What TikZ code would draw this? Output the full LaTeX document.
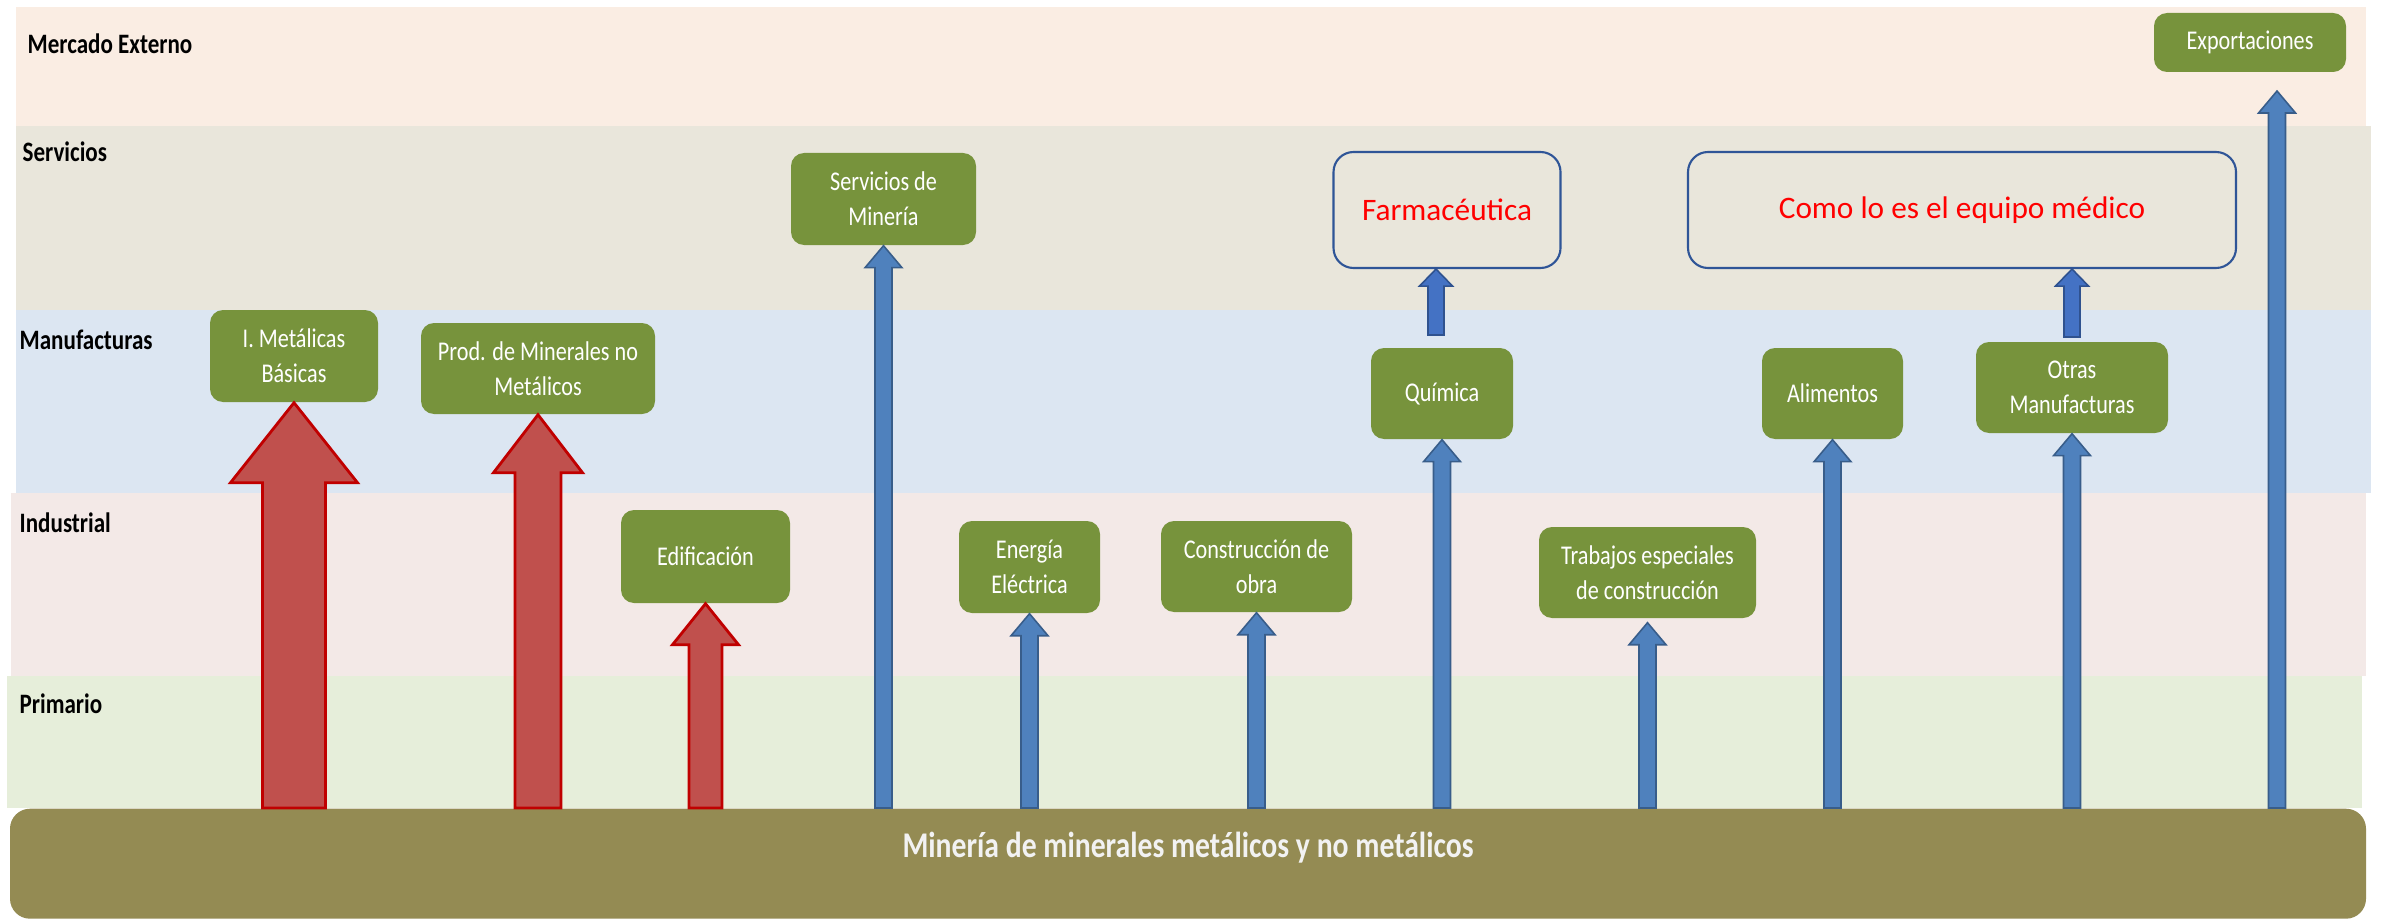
\documentclass[tikz,border=0pt]{standalone}
\usepackage{fontspec}
\setmainfont{Carlito}[FakeStretch=0.82]
\newfontfamily\widefont{Carlito}
\usetikzlibrary{calc}

\definecolor{extband}{HTML}{FAEDE3}
\definecolor{srvband}{HTML}{E9E6DB}
\definecolor{manband}{HTML}{DCE6F2}
\definecolor{indband}{HTML}{F3E9E7}
\definecolor{priband}{HTML}{E6EEDA}
\definecolor{basecol}{HTML}{948B53}
\definecolor{boxgreen}{HTML}{77933C}
\definecolor{redfill}{HTML}{C0504D}
\definecolor{redline}{HTML}{C00000}
\definecolor{bluefill}{HTML}{4F81BD}
\definecolor{blueline}{HTML}{385D8A}
\definecolor{bluetwo}{HTML}{4472C4}
\definecolor{bluetwoline}{HTML}{2F528F}
\definecolor{navyline}{HTML}{2F5597}

\tikzset{
  band/.style={anchor=west, inner sep=0pt, font=\bfseries\fontsize{8}{10}\selectfont},
  sector/.style={fill=boxgreen, rounded corners=0.13cm, text=white, align=center, inner sep=0pt, font=\fontsize{7.7}{10}\selectfont},
  goal/.style={draw=navyline, line width=0.6pt, rounded corners=0.2cm, text=red, inner sep=0pt, font=\widefont\fontsize{8.9}{11}\selectfont},
  fat/.style n args={3}{to path={let \p1=(\tikztostart), \p2=(\tikztotarget) in
    (\x2-#1,\y1) -- (\x2-#1,\y2-#3) -- (\x2-#2,\y2-#3) -- (\x2,\y2) -- (\x2+#2,\y2-#3) -- (\x2+#1,\y2-#3) -- (\x2+#1,\y1) -- cycle}},
  redarrow/.style={fill=redfill, draw=redline, line width=0.8pt},
  bluearrow/.style={fill=bluefill, draw=blueline, line width=0.45pt, fat={0.085cm}{0.185cm}{0.22cm}},
  shortarrow/.style={fill=bluetwo, draw=bluetwoline, line width=0.45pt, fat={0.08cm}{0.165cm}{0.17cm}},
}

\begin{document}
\begin{tikzpicture}
  \useasboundingbox (0,0) rectangle (23.82,-9.21);

  \fill[extband] (0.16,-0.07) rectangle (23.66,-1.26);
  \fill[srvband] (0.16,-1.26) rectangle (23.71,-3.10);
  \fill[manband] (0.16,-3.10) rectangle (23.71,-4.93);
  \fill[indband] (0.11,-4.93) rectangle (23.66,-6.76);
  \fill[priband] (0.07,-6.76) rectangle (23.62,-8.08);

  \node[band] (lext) at (0.27,-0.44) {Mercado Externo};
  \node[band] (lsrv) at (0.22,-1.52) {Servicios};
  \node[band] (lman) at (0.19,-3.40) {Manufacturas};
  \node[band] (lind) at (0.19,-5.23) {Industrial};
  \node[band] (lpri) at (0.19,-7.04) {Primario};

  \node[fill=basecol, rounded corners=0.2cm, anchor=north, minimum width=23.56cm, inner sep=0pt,
    text height=0.49cm, text depth=0.61cm, text=white!95!black, font=\bfseries\fontsize{10.3}{12}\selectfont]
    (base) at (11.88,-8.08) {Minería de minerales metálicos y no metálicos};

  \node[sector, minimum width=1.68cm, minimum height=0.92cm] (met) at (2.94,-3.56) {I. Metálicas\\Básicas};
  \node[sector, minimum width=2.34cm, minimum height=0.91cm] (pmin) at (5.38,-3.685) {Prod. de Minerales no\\Metálicos};
  \node[sector, minimum width=1.69cm, minimum height=0.93cm] (edif) at (7.055,-5.565) {Edificación};
  \node[sector, minimum width=1.85cm, minimum height=0.92cm] (smin) at (8.835,-1.99) {Servicios de\\Minería};
  \node[sector, minimum width=1.41cm, minimum height=0.92cm] (ener) at (10.295,-5.67) {Energía\\Eléctrica};
  \node[sector, minimum width=1.91cm, minimum height=0.91cm] (cons) at (12.565,-5.665) {Construcción de\\obra};
  \node[sector, minimum width=1.42cm, minimum height=0.91cm] (quim) at (14.42,-3.935) {Química};
  \node[sector, minimum width=2.17cm, minimum height=0.91cm] (trab) at (16.475,-5.725) {Trabajos especiales\\de construcción};
  \node[sector, minimum width=1.41cm, minimum height=0.91cm] (alim) at (18.325,-3.935) {Alimentos};
  \node[sector, minimum width=1.92cm, minimum height=0.91cm] (otras) at (20.72,-3.875) {Otras\\Manufacturas};
  \node[sector, minimum width=1.92cm, minimum height=0.59cm] (expo) at (22.50,-0.425) {Exportaciones};

  \node[goal, minimum width=2.27cm, minimum height=1.16cm] (farma) at (14.47,-2.10) {Farmacéutica};
  \node[goal, minimum width=5.48cm, minimum height=1.16cm] (medic) at (19.62,-2.10) {Como lo es el equipo médico};

  \coordinate (extip) at (22.77,-0.91);
  \coordinate (f0) at (14.36,-3.35);
  \coordinate (m0) at (20.72,-3.37);

  \draw[redarrow, fat={0.315cm}{0.635cm}{0.8cm}] (base.north -| met.south) to (met.south);
  \draw[redarrow, fat={0.23cm}{0.445cm}{0.58cm}] (base.north -| pmin.south) to (pmin.south);
  \draw[redarrow, fat={0.165cm}{0.33cm}{0.41cm}] (base.north -| edif.south) to (edif.south);

  \draw[bluearrow] (base.north -| smin.south) to (smin.south);
  \draw[bluearrow] (base.north -| ener.south) to (ener.south);
  \draw[bluearrow] (base.north -| cons.south) to (cons.south);
  \draw[bluearrow] (base.north -| quim.south) to (quim.south);
  \draw[bluearrow] (base.north -| trab.south) to ([yshift=-0.04cm]trab.south);
  \draw[bluearrow] (base.north -| alim.south) to (alim.south);
  \draw[bluearrow] (base.north -| otras.south) to (otras.south);
  \draw[bluearrow] (base.north -| extip) to (extip);

  \draw[shortarrow] (f0) to (f0 |- farma.south);
  \draw[shortarrow] (m0) to (m0 |- medic.south);
\end{tikzpicture}
\end{document}
